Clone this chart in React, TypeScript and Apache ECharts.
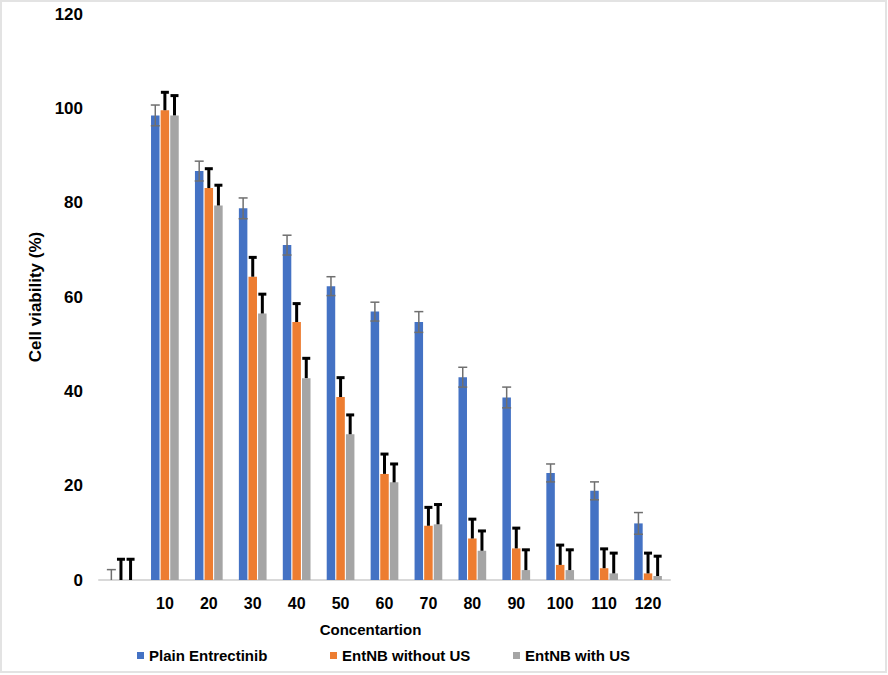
import React, { useEffect, useRef } from "react";
import * as echarts from "echarts";

const categories = ["", "10", "20", "30", "40", "50", "60", "70", "80", "90", "100", "110", "120"];
const seriesNames = ["Plain Entrectinib", "EntNB without US", "EntNB with US"];
const plainValues = [0, 98.5, 86.7, 78.8, 71.0, 62.3, 56.9, 54.7, 43.0, 38.7, 22.7, 18.9, 12.0];
const plainErrors = [2.2, 2.2, 2.1, 2.2, 2.1, 2.0, 2.0, 2.2, 2.1, 2.2, 1.9, 1.9, 2.3];
const withoutUsValues = [0, 99.6, 83.1, 64.3, 54.7, 38.8, 22.5, 11.5, 8.8, 6.7, 3.2, 2.5, 1.4];
const withoutUsErrors = [4.4, 3.8, 4.1, 4.1, 3.9, 4.1, 4.2, 3.9, 4.1, 4.3, 4.2, 4.1, 4.3];
const withUsValues = [0, 98.5, 79.4, 56.5, 42.8, 30.9, 20.7, 11.8, 6.2, 2.1, 2.1, 1.4, 0.85];
const withUsErrors = [4.4, 4.2, 4.3, 4.1, 4.2, 4.1, 3.9, 4.2, 4.2, 4.3, 4.3, 4.3, 4.2];
const yTicks = [0, 20, 40, 60, 80, 100, 120];

const FONT = 'Arial, "Liberation Sans", sans-serif';
const COLORS = ["#4472C4", "#ED7D31", "#A5A5A5"];
const BAR_W = 8.5;
const BAR_GAP = 0.13;
const STEP = BAR_W * (1 + BAR_GAP);

function errorSeries(idx: number, values: number[], errors: number[], symmetric: boolean) {
  const data = values.map((v, i) => [i, v, errors[i]]);
  const offset = (idx - 1) * STEP;
  const stroke = symmetric ? "#6f6f6f" : "#000000";
  const lw = symmetric ? 1.5 : 3;
  const capHalf = symmetric ? 4.5 : 4;
  return {
    type: "custom",
    name: seriesNames[idx] + " error",
    data,
    encode: { x: 0, y: 1 },
    z: 5,
    renderItem: (params: any, api: any) => {
      const ci = api.value(0);
      const v = api.value(1);
      const e = api.value(2);
      const base = api.coord([ci, v]);
      const top = api.coord([ci, v + e]);
      const bot = api.coord([ci, symmetric ? Math.max(v - e, 0) : v]);
      const cx = base[0] + offset;
      const children: any[] = [
        { type: "line", shape: { x1: cx, y1: top[1], x2: cx, y2: bot[1] }, style: { stroke, lineWidth: lw } },
        { type: "line", shape: { x1: cx - capHalf, y1: top[1], x2: cx + capHalf, y2: top[1] }, style: { stroke, lineWidth: lw } },
      ];
      if (symmetric && v - e > 0) {
        children.push({ type: "line", shape: { x1: cx - capHalf, y1: bot[1], x2: cx + capHalf, y2: bot[1] }, style: { stroke, lineWidth: lw } });
      }
      return { type: "group", children };
    },
  };
}

export default function App() {
  const ref = useRef<HTMLDivElement>(null);
  useEffect(() => {
    if (!ref.current) return;
    const chart = echarts.init(ref.current, undefined, { renderer: "svg" });
    const barValues = [plainValues, withoutUsValues, withUsValues];
    const legendLefts = [137, 330, 513];
    chart.setOption({
      animation: false,
      backgroundColor: "#ffffff",
      textStyle: { fontFamily: FONT },
      grid: { left: 99, right: 218, top: 14, bottom: 95, containLabel: false },
      legend: seriesNames.map((n, i) => ({
        data: [n],
        left: legendLefts[i],
        top: 648,
        padding: 0,
        itemWidth: 7,
        itemHeight: 7,
        itemGap: 0,
        icon: "rect",
        textStyle: { fontFamily: FONT, fontWeight: "bold", fontSize: 15, color: "#000" },
        selectedMode: false,
      })),
      xAxis: {
        type: "category",
        data: categories,
        name: "Concentartion",
        nameLocation: "middle",
        nameGap: 42,
        nameTextStyle: { fontFamily: FONT, fontWeight: "bold", fontSize: 15, color: "#000", padding: [0, 28, 0, 0] },
        axisLine: { lineStyle: { color: "#d9d9d9", width: 2 } },
        axisTick: { show: false },
        axisLabel: { fontFamily: FONT, fontWeight: "bold", fontSize: 16, color: "#000", margin: 15, interval: 0 },
      },
      yAxis: {
        type: "value",
        min: 0,
        max: 120,
        interval: 20,
        name: "Cell viability (%)",
        nameLocation: "middle",
        nameGap: 47,
        nameTextStyle: { fontFamily: FONT, fontWeight: "bold", fontSize: 17, color: "#000" },
        axisLine: { show: false },
        axisTick: { show: false },
        splitLine: { show: false },
        axisLabel: {
          fontFamily: FONT,
          fontWeight: "bold",
          fontSize: 17,
          color: "#000",
          margin: 16,
          formatter: (v: number) => (yTicks.includes(v) ? String(v) : ""),
        },
      },
      graphic: [
        {
          type: "rect",
          shape: { x: 1, y: 1, width: 885, height: 671 },
          style: { fill: "none", stroke: "#e3e3e3", lineWidth: 2 },
          silent: true,
          z: -10,
        },
      ],
      series: [
        ...barValues.map((vals, i) => ({
          type: "bar",
          name: seriesNames[i],
          data: vals,
          barWidth: BAR_W,
          barGap: `${BAR_GAP * 100}%`,
          itemStyle: { color: COLORS[i] },
          z: 2,
        })),
        errorSeries(0, plainValues, plainErrors, true),
        errorSeries(1, withoutUsValues, withoutUsErrors, false),
        errorSeries(2, withUsValues, withUsErrors, false),
      ],
    });
    return () => chart.dispose();
  }, []);
  return <div ref={ref} style={{ position: "absolute", left: 0, top: 0, width: 888, height: 675 }} />;
}
